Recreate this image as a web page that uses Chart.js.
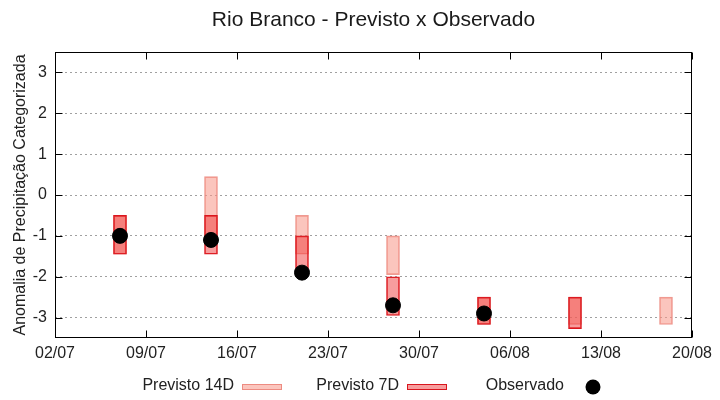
<!DOCTYPE html>
<html>
<head>
<meta charset="utf-8">
<script src="https://cdn.jsdelivr.net/npm/chart.js@4.4.1/dist/chart.umd.min.js"></script>
<style>
  html, body { margin: 0; padding: 0; background: #fff; }
  #wrap { width: 720px; height: 400px; }
</style>
</head>
<body>
<div id="wrap"><canvas id="rbChart" width="720" height="400"></canvas></div>
<script>
// dias contados a partir de 02/07
var dias = [5, 12, 19, 26, 33, 40, 47];
var prev14Top = [-0.5, 0.45, -0.5, -1.0, -2.5, -2.5, -2.5];
var prev14Bot = [-1.45, -1.2, -1.45, -1.95, -3.17, -3.17, -3.17];
var prev7Top = [-0.5, -0.5, -1.0, -2.0, -2.5, -2.5, null];
var prev7Bot = [-1.45, -1.45, -1.9, -2.95, -3.17, -3.27, null];
var observado = [-1.0, -1.1, -1.9, -2.7, -2.9, null, null];
var xTickDays = [0, 7, 14, 21, 28, 35, 42, 49];
var xTickLabels = ['02/07', '09/07', '16/07', '23/07', '30/07', '06/08', '13/08', '20/08'];
var yTicks = [-3, -2, -1, 0, 1, 2, 3];

var FONT = '"Liberation Sans", Arial, sans-serif';
var c14Fill = 'rgba(248,150,135,0.55)', c14Border = 'rgba(232,120,110,0.75)';
var c7Fill = 'rgba(240,60,60,0.5)', c7Border = '#d9161e';

var toRange = function(top, bot) {
  var out = [];
  dias.forEach(function(d, i) {
    if (top[i] !== null && bot[i] !== null) out.push({x: d, y: [bot[i], top[i]]});
  });
  return out;
};
var obsPoints = [];
dias.forEach(function(d, i) {
  if (observado[i] !== null) obsPoints.push({x: d, y: observado[i]});
});

// titulo, moldura com ticks para dentro e legenda no estilo gnuplot
var gnuplotLook = {
  id: 'gnuplotLook',
  afterDatasetsDraw: function(chart) {
    var ctx = chart.ctx, a = chart.chartArea;
    var xs = chart.scales.x, ys = chart.scales.y;
    ctx.save();
    ctx.strokeStyle = '#000';
    ctx.lineWidth = 1;
    var L = Math.round(a.left) + 0.5, R = Math.round(a.right) - 0.5;
    var T = Math.round(a.top) + 0.5, B = Math.round(a.bottom) - 0.5;
    ctx.strokeRect(L, T, R - L, B - T);
    ctx.beginPath();
    xTickDays.forEach(function(d) {
      var px = Math.round(xs.getPixelForValue(d)) + 0.5;
      ctx.moveTo(px, B); ctx.lineTo(px, B - 7);
      ctx.moveTo(px, T); ctx.lineTo(px, T + 7);
    });
    yTicks.forEach(function(v) {
      var py = Math.round(ys.getPixelForValue(v)) + 0.5;
      ctx.moveTo(L, py); ctx.lineTo(L + 7, py);
      ctx.moveTo(R, py); ctx.lineTo(R - 7, py);
    });
    ctx.stroke();
    ctx.restore();
  },
  afterDraw: function(chart) {
    var ctx = chart.ctx, a = chart.chartArea;
    ctx.save();
    ctx.fillStyle = '#1a1a1a';
    ctx.font = '21px ' + FONT;
    ctx.textAlign = 'center';
    ctx.textBaseline = 'middle';
    ctx.fillText('Rio Branco - Previsto x Observado', (a.left + a.right) / 2, 20);

    ctx.font = '16px ' + FONT;
    ctx.textAlign = 'right';
    ctx.fillStyle = '#222';
    var ly = 386;
    ctx.fillText('Previsto 14D', 234, ly);
    ctx.fillText('Previsto 7D', 399, ly);
    ctx.fillText('Observado', 564, ly);
    ctx.lineWidth = 1;
    ctx.fillStyle = c14Fill; ctx.strokeStyle = c14Border;
    ctx.fillRect(242, 384, 40, 6); ctx.strokeRect(242.5, 384.5, 39, 5);
    ctx.fillStyle = c7Fill; ctx.strokeStyle = c7Border;
    ctx.fillRect(407, 384, 40, 6); ctx.strokeRect(407.5, 384.5, 39, 5);
    ctx.fillStyle = '#000';
    ctx.beginPath(); ctx.arc(593, 387, 7.5, 0, Math.PI * 2); ctx.fill();
    ctx.restore();
  }
};

new Chart(document.getElementById('rbChart'), {
  type: 'bar',
  data: {
    datasets: [
      {
        type: 'scatter', label: 'Observado', data: obsPoints, order: 0,
        pointRadius: 7.5, pointHoverRadius: 7.5, backgroundColor: '#000', borderColor: '#000'
      },
      {
        label: 'Previsto 7D', data: toRange(prev7Top, prev7Bot), order: 1, grouped: false,
        backgroundColor: c7Fill, borderColor: c7Border, borderWidth: 1, borderSkipped: false,
        barThickness: 13
      },
      {
        label: 'Previsto 14D', data: toRange(prev14Top, prev14Bot), order: 2, grouped: false,
        backgroundColor: c14Fill, borderColor: c14Border, borderWidth: 1, borderSkipped: false,
        barThickness: 13
      }
    ]
  },
  options: {
    responsive: false,
    animation: false,
    layout: { padding: { top: 52, right: 28, left: 0, bottom: 0 } },
    plugins: { legend: { display: false }, title: { display: false }, tooltip: { enabled: false } },
    scales: {
      x: {
        type: 'linear', min: 0, max: 49, offset: false,
        afterBuildTicks: function(axis) { axis.ticks = xTickDays.map(function(v) { return {value: v}; }); },
        afterFit: function(axis) { axis.height = 62; },
        grid: { display: false, drawTicks: false },
        border: { display: false },
        ticks: {
          padding: 6, color: '#222', font: { family: FONT, size: 16 }, maxRotation: 0,
          callback: function(v, i) { return xTickLabels[i]; }
        }
      },
      y: {
        min: -3.5, max: 3.5,
        afterBuildTicks: function(axis) { axis.ticks = yTicks.map(function(v) { return {value: v}; }); },
        afterFit: function(axis) { axis.width = 55; },
        grid: { color: '#a0a0a0', lineWidth: 1, drawTicks: false },
        border: { display: false, dash: [2, 3] },
        ticks: { padding: 8, color: '#222', font: { family: FONT, size: 16 } },
        title: {
          display: true, text: 'Anomalia de Precipitação Categorizada', color: '#222',
          font: { family: FONT, size: 16 }, padding: { top: 11, bottom: 0 }
        }
      }
    }
  },
  plugins: [gnuplotLook]
});
</script>
</body>
</html>
